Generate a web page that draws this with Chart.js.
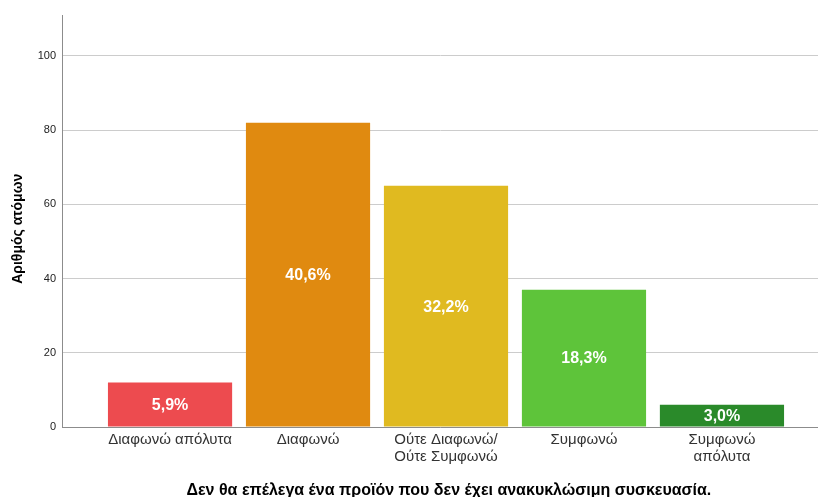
<!DOCTYPE html>
<html>
<head>
<meta charset="utf-8">
<script src="https://cdn.jsdelivr.net/npm/chart.js@4/dist/chart.umd.min.js"></script>
<style>
    html, body { margin: 0; padding: 0; background: #fff; overflow: hidden; }
    #wrap { width: 818px; height: 497px; }
</style>
</head>
<body>
<div id="wrap"><canvas id="grafico"></canvas></div>
<script>
const categorias = [
    'Διαφωνώ απόλυτα',
    'Διαφωνώ',
    ['Ούτε Διαφωνώ/', 'Ούτε Συμφωνώ'],
    'Συμφωνώ',
    ['Συμφωνώ', 'απόλυτα']
]
const atoma = [12, 82, 65, 37, 6]
const pososta = ['5,9%', '40,6%', '32,2%', '18,3%', '3,0%']
const cores = ['#ed4b4f', '#e08a10', '#e0ba20', '#5ec43a', '#2a8a2a']
const yTicks = [0, 20, 40, 60, 80, 100]

const fonte = "'Liberation Sans', Arial, sans-serif"

// rotulos brancos no meio das barras
const rotulos = {
    id: 'rotulos',
    afterDatasetsDraw(chart) {
        const ctx = chart.ctx
        const meta = chart.getDatasetMeta(0)
        ctx.save()
        ctx.fillStyle = '#ffffff'
        ctx.font = 'bold 16px ' + fonte
        ctx.textAlign = 'center'
        ctx.textBaseline = 'middle'
        meta.data.forEach((bar, i) => {
            const meio = (bar.y + bar.base) / 2
            ctx.fillText(pososta[i], bar.x, meio + 1)
        })
        ctx.restore()
    }
}

const ctx = document.getElementById('grafico').getContext('2d')

const grafico = new Chart(ctx, {
    type: 'bar',
    data: {
        datasets: [{
            data: atoma.map((v, i) => ({ x: i, y: v })),
            backgroundColor: cores,
            borderWidth: 0,
            barPercentage: 0.9,
            categoryPercentage: 1.0
        }]
    },
    options: {
        responsive: true,
        maintainAspectRatio: false,
        animation: false,
        layout: { padding: { top: 15, right: 0, left: 0, bottom: 0 } },
        plugins: {
            legend: { display: false },
            tooltip: { enabled: false }
        },
        scales: {
            x: {
                type: 'linear',
                min: -0.783,
                max: 4.696,
                offset: false,
                grid: { display: false, drawTicks: false },
                border: { display: true, color: '#8c8c8c', width: 1 },
                afterBuildTicks: s => { s.ticks = categorias.map((c, i) => ({ value: i })) },
                afterFit: s => { s.height = 70 },
                ticks: {
                    autoSkip: false,
                    maxRotation: 0,
                    padding: 4,
                    color: '#333333',
                    font: { family: fonte, size: 15, lineHeight: 1.15 },
                    callback: (v) => categorias[v]
                },
                title: {
                    display: true,
                    text: '    Δεν θα επέλεγα ένα προϊόν που δεν έχει ανακυκλώσιμη συσκευασία.',
                    color: '#000000',
                    font: { family: fonte, size: 16, weight: 'bold' },
                    padding: { top: 0, bottom: -3 }
                }
            },
            y: {
                min: 0,
                max: 111,
                afterBuildTicks: s => { s.ticks = yTicks.map(v => ({ value: v })) },
                afterFit: s => { s.width = 62 },
                grid: { color: '#cccccc', lineWidth: 1, drawTicks: false },
                border: { display: true, color: '#8c8c8c', width: 1 },
                ticks: {
                    padding: 6,
                    color: '#222222',
                    font: { family: fonte, size: 11 }
                },
                title: {
                    display: true,
                    text: 'Αριθμός ατόμων    ',
                    color: '#000000',
                    font: { family: fonte, size: 14, weight: 'bold' },
                    padding: { top: 10, bottom: 0 }
                }
            }
        }
    },
    plugins: [rotulos]
})
</script>
</body>
</html>
